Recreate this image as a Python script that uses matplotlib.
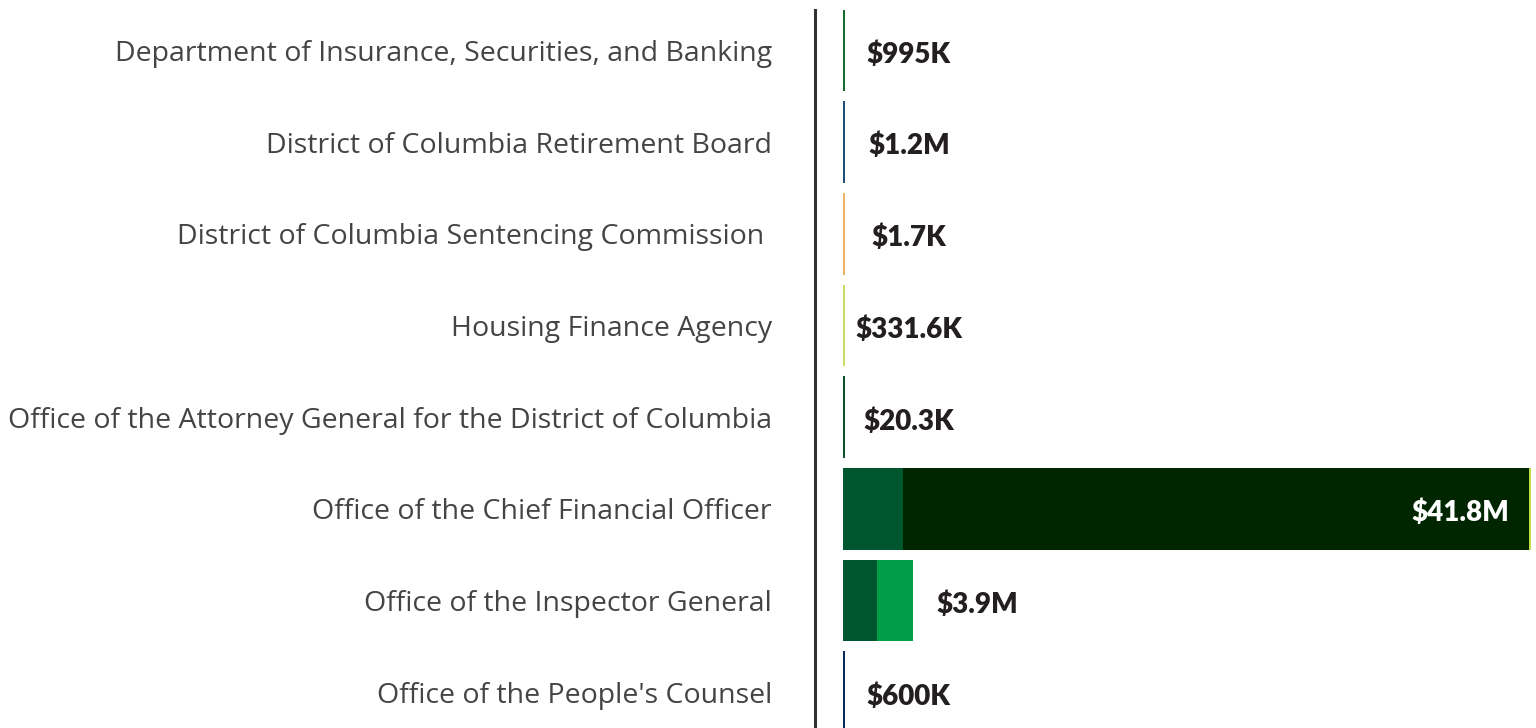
import matplotlib
matplotlib.use('Agg')
from matplotlib import pyplot as plt

agencias = ['Department of Insurance, Securities, and Banking',
            'District of Columbia Retirement Board',
            'District of Columbia Sentencing Commission ',
            'Housing Finance Agency',
            'Office of the Attorney General for the District of Columbia',
            'Office of the Chief Financial Officer',
            'Office of the Inspector General',
            "Office of the People's Counsel"]
etiquetas = ['$995K', '$1.2M', '$1.7K', '$331.6K', '$20.3K', '$41.8M', '$3.9M', '$600K']
# tramos apilados de cada barra (en millones) y su color
tramos = [
    [(0.12, '#1a6b2e')],
    [(0.12, '#1f4e79')],
    [(0.12, '#efb264')],
    [(0.12, '#c8dc64')],
    [(0.12, '#0b4d2e')],
    [(3.65, '#00562f'), (38.0, '#002600'), (0.15, '#c5dc4a')],
    [(2.05, '#00562f'), (2.2, '#009e49')],
    [(0.12, '#0a2a5c')],
]

fig = plt.figure(figsize=(15.36, 7.28), dpi=100)
ax = fig.add_axes([815 / 1536, 0, 721 / 1536, 718 / 728])

for i, segs in enumerate(tramos):
    izq = 0
    for valor, color in segs:
        ax.barh(i, valor, left=izq, height=0.89, color=color, linewidth=0)
        izq += valor
    if izq > 20:
        ax.annotate(etiquetas[i], (izq, i), xytext=(-16, -3), textcoords='offset points',
                    ha='right', va='center', color='white', fontsize=20,
                    fontweight='heavy', family='Lato')
    else:
        ax.annotate(etiquetas[i], (izq, i), xytext=(46, -3), textcoords='offset points',
                    ha='center', va='center', color='#231f20', fontsize=20,
                    fontweight='heavy', family='Lato')

ax.set_xlim(-1.70, 42.1)
ax.set_ylim(7.39, -0.44)
ax.set_yticks(range(len(agencias)))
ax.set_yticklabels(agencias, fontsize=20.5, color='#444444', family='Open Sans')
ax.tick_params(axis='y', length=0, pad=31)
ax.set_xticks([])
for lado in ['top', 'right', 'bottom']:
    ax.spines[lado].set_visible(False)
ax.spines['left'].set_color('#333333')
ax.spines['left'].set_linewidth(2.2)

fig.savefig('out.png', dpi=100)
